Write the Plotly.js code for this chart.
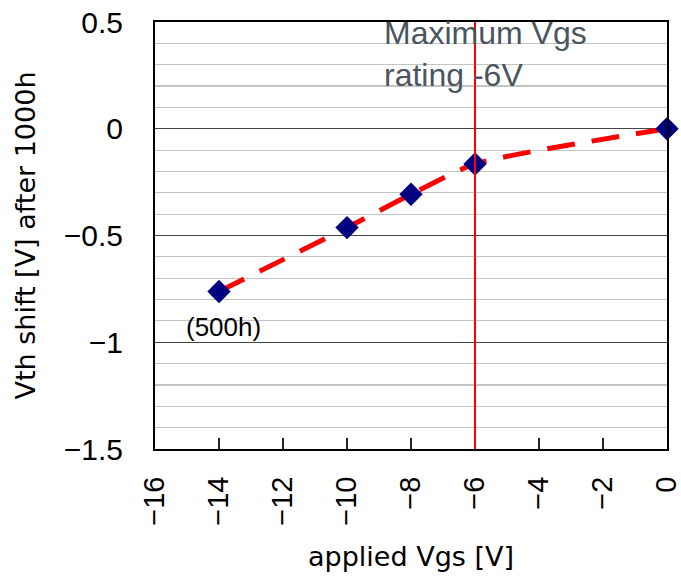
<!DOCTYPE html>
<html><head><meta charset="utf-8">
<script src="https://cdn.plot.ly/plotly-3.0.1.min.js"></script>
<style>html,body{margin:0;padding:0;background:#fff}#chart{width:681px;height:579px}</style>
</head><body><div id="chart"></div>
<script>
const appliedVgs = [-14, -10, -8, -6, 0];
const vthShift = [-0.762, -0.463, -0.307, -0.165, 0];
const xTicks = [-16, -14, -12, -10, -8, -6, -4, -2, 0];
const xTickText = ['\u221216', '\u221214', '\u221212', '\u221210', '\u22128', '\u22126', '\u22124', '\u22122', '0'];
const yTicks = [-1.5, -1, -0.5, 0, 0.5];
const yTickText = ['\u22121.5', '\u22121', '\u22120.5', '0', '0.5'];
const maxRating = -6;

const font = "Liberation Sans, Arial, sans-serif";
const titleFont = "DejaVu Sans, sans-serif";

const trace = {
  x: appliedVgs, y: vthShift, type: 'scatter', mode: 'lines+markers',
  line: {color: '#ff0000', width: 5, dash: '28px,17px', shape: 'spline', smoothing: 0.6},
  marker: {symbol: 'diamond', color: '#000080', size: 18},
  showlegend: false, hoverinfo: 'skip', cliponaxis: false
};

const layout = {
  width: 681, height: 579,
  margin: {l: 155, r: 14, t: 22, b: 130},
  paper_bgcolor: '#fff', plot_bgcolor: '#fff',
  xaxis: {
    range: [-16, 0], tickvals: xTicks, ticktext: xTickText, tickangle: -90,
    ticks: 'inside', ticklen: 11, tickwidth: 1.5, tickcolor: '#222',
    showgrid: false, zeroline: false, showline: true, linecolor: '#000', linewidth: 2, mirror: true,
    tickfont: {family: font, size: 29, color: '#000'},
    ticklabelstandoff: 14, ticklabeloverflow: 'allow',
    title: {text: 'applied Vgs [V]', font: {family: titleFont, size: 27, color: '#000'}, standoff: 22}
  },
  yaxis: {
    range: [-1.5, 0.5], tickvals: yTicks, ticktext: yTickText,
    ticks: '', showgrid: true, gridcolor: '#444', gridwidth: 1.2,
    minor: {dtick: 0.1, showgrid: true, gridcolor: '#c4c4c4', gridwidth: 1.2, ticks: ''},
    zeroline: false, showline: true, linecolor: '#000', linewidth: 2, mirror: true,
    tickfont: {family: font, size: 30, color: '#000'},
    ticklabelstandoff: 24, ticklabeloverflow: 'allow',
    title: {text: 'Vth shift [V] after 1000h', font: {family: titleFont, size: 27, color: '#000'}, standoff: 20}
  },
  shapes: [{type: 'line', xref: 'x', yref: 'paper', x0: maxRating, x1: maxRating, y0: 0, y1: 1,
    line: {color: '#ff0000', width: 2}}],
  annotations: [
    {xref: 'paper', yref: 'paper', x: (382-155)/512, y: (449-13)/427, xanchor: 'left', yanchor: 'top',
     text: 'Maximum Vgs<br>rating -6V', showarrow: false, align: 'left',
     font: {family: font, size: 32, color: '#4a555f'}},
    {xref: 'x', yref: 'y', x: -13.85, y: -0.93, xanchor: 'center', yanchor: 'middle',
     text: '(500h)', showarrow: false, font: {family: font, size: 26, color: '#000'}}
  ]
};

Plotly.newPlot('chart', [trace], layout, {staticPlot: true});
</script></body></html>
